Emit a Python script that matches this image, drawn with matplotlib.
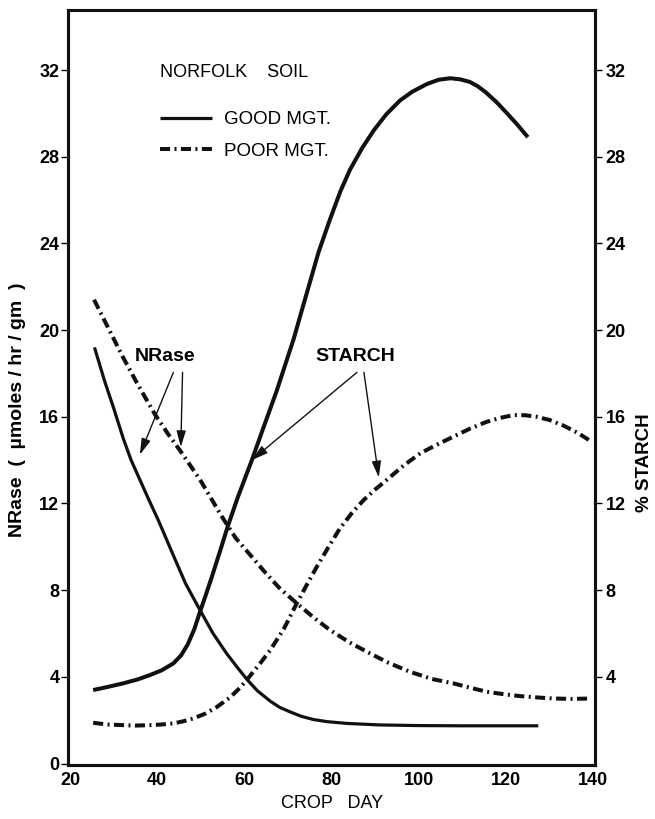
import matplotlib
matplotlib.use("Agg")
import matplotlib.pyplot as plt

plt.rcParams['font.family'] = ['Liberation Sans', 'DejaVu Sans']

# ---- data ----
good_nrase_day = [25.6, 28, 30, 32.2, 34, 36, 38, 40.3, 43.7, 46.5, 49.8, 52.8, 55.9, 58.5,
                  60.7, 63, 65.9, 68, 70.5, 73, 75.8, 79, 83.5, 91, 100, 110, 127.4]
good_nrase_val = [19.2, 17.6, 16.4, 15.0, 14.0, 13.1, 12.2, 11.2, 9.6, 8.3, 7.08, 6.0, 5.08, 4.4,
                  3.85, 3.35, 2.88, 2.6, 2.38, 2.18, 2.03, 1.93, 1.85, 1.78, 1.75, 1.74, 1.74]

poor_nrase_day = [25.5, 29, 32, 35.5, 39.5, 42.5, 45.2, 49.8, 54.8, 58, 61, 64.3, 68, 72, 75.8,
                  79.6, 84, 88.8, 93, 98, 103, 107.9, 111.7, 115.6, 119.4, 123.2, 127, 130.9,
                  135, 139.6]
poor_nrase_val = [21.4, 20.0, 18.8, 17.5, 16.1, 15.2, 14.45, 13.1, 11.4, 10.4, 9.7, 8.92, 8.1,
                  7.39, 6.75, 6.16, 5.6, 5.08, 4.65, 4.23, 3.9, 3.7, 3.5, 3.31, 3.2, 3.11, 3.05,
                  3.0, 2.98, 3.0]

good_starch_day = [25.3, 29, 32.2, 35.5, 38.3, 41, 43.7, 45.5, 47, 48.5, 49.8, 51, 52.5, 54.4,
                   56.1, 58.5, 61.7, 64, 67.4, 71.3, 73, 75, 77, 79.6, 82, 84.2, 87, 89.6, 92.5,
                   95.7, 98.5, 101.8, 104.5, 107.2, 109.5, 111.7, 113.5, 115.3, 117.8, 120,
                   122.5, 125]
good_starch_val = [3.39, 3.55, 3.70, 3.88, 4.08, 4.3, 4.62, 5.0, 5.5, 6.2, 7.0, 7.7, 8.6, 9.8,
                   10.9, 12.3, 14.0, 15.3, 17.2, 19.6, 20.8, 22.2, 23.6, 25.1, 26.4, 27.4, 28.4,
                   29.2, 29.95, 30.6, 31.0, 31.35, 31.55, 31.62, 31.57, 31.45, 31.25, 30.98,
                   30.52, 30.05, 29.5, 28.9]

poor_starch_day = [25.3, 28.5, 32.2, 35, 38.3, 41, 43.7, 46, 48.3, 51, 53.6, 56.7, 59, 60.5, 63.6,
                   65.9, 69, 72, 74.3, 76.6, 79.3, 81.9, 84.6, 87.3, 90, 92.6, 96.5, 100.3, 104,
                   107.9, 111.7, 115.6, 118.7, 121.7, 124.4, 127, 130, 133.1, 136.5, 139.6]
poor_starch_val = [1.88, 1.8, 1.77, 1.75, 1.77, 1.8, 1.85, 1.95, 2.08, 2.3, 2.6, 3.05, 3.5, 3.85,
                   4.62, 5.23, 6.2, 7.39, 8.25, 9.08, 10.0, 10.85, 11.55, 12.15, 12.65, 13.08,
                   13.75, 14.31, 14.7, 15.08, 15.45, 15.77, 15.95, 16.08, 16.07, 16.0, 15.85,
                   15.6, 15.25, 14.85]

x_ticks = [20, 40, 60, 80, 100, 120, 140]
left_ticks = [0, 4, 8, 12, 16, 20, 24, 28, 32]
right_ticks = [4, 8, 12, 16, 20, 24, 28, 32]

legend_title = "NORFOLK    SOIL"
legend_labels = ["GOOD MGT.", "POOR MGT."]

# annotation anchors: (label, text position, arrow start -> tip)
nrase_label = ("NRase", (41.8, 18.8), [((43.7, 18.05), (36.0, 14.25)), ((45.8, 18.05), (45.4, 14.6))])
starch_label = ("STARCH", (85.4, 18.8), [((85.8, 18.05), (61.7, 14.0)), ((87.4, 18.05), (90.8, 13.2))])

# ---- figure ----
fig = plt.figure(figsize=(6.55, 8.19), dpi=100)
ax = fig.add_axes([0.1043, 0.0659, 0.8041, 0.9219])
ax2 = ax.twinx()

dashdot = (0, (2.5, 1.1, 0.5, 1.1))
col = '#111111'

l_good, = ax.plot(good_nrase_day, good_nrase_val, color=col, lw=2.3, solid_capstyle='butt',
                  solid_joinstyle='round')
ax.plot(good_starch_day, good_starch_val, color=col, lw=2.9, solid_capstyle='butt',
        solid_joinstyle='round')
l_poor, = ax.plot(poor_nrase_day, poor_nrase_val, color=col, lw=2.9, linestyle=dashdot,
                  dash_capstyle='butt')
ax.plot(poor_starch_day, poor_starch_val, color=col, lw=2.9, linestyle=dashdot,
        dash_capstyle='butt')

xlim = (19.6, 140.4)
ylim = (-0.07, 34.77)
for a in (ax, ax2):
    a.set_xlim(*xlim)
    a.set_ylim(*ylim)

ax.set_xticks(x_ticks)
ax.set_yticks(left_ticks)
ax2.set_yticks(right_ticks)

ax.tick_params(axis='x', length=0, pad=5, labelsize=13)
ax.tick_params(axis='y', direction='out', length=5, width=1, pad=1.5, labelsize=13)
ax2.tick_params(axis='y', direction='out', length=5, width=1, pad=2.5, labelsize=13)
for lab in ax.get_xticklabels() + ax.get_yticklabels() + ax2.get_yticklabels():
    lab.set_fontweight('bold')

for a in (ax, ax2):
    for s in a.spines.values():
        s.set_linewidth(2.2)
        s.set_color(col)
ax.spines['top'].set_linewidth(1.8)

ax.set_xlabel("CROP   DAY", fontsize=13, labelpad=4)
ax.set_ylabel("NRase  (  \u00b5moles / hr / gm  )", fontsize=14, fontweight='bold')
ax.yaxis.set_label_coords(-0.080, 0.47)
ax2.set_ylabel("% STARCH", fontsize=13.5, fontweight='bold', rotation=90)
ax2.yaxis.set_label_coords(1.078, 0.40)

# legend
ax.text(0.174, 0.917, legend_title, transform=ax.transAxes, fontsize=13,
        ha='left', va='center')
leg = ax.legend([l_good, l_poor], legend_labels, loc='upper left',
                bbox_to_anchor=(0.174, 0.866), frameon=False, fontsize=13.5,
                handlelength=2.8, handletextpad=0.6, labelspacing=0.78,
                borderpad=0, borderaxespad=0)

# annotations
for label, tpos, arrows in (nrase_label, starch_label):
    ax.text(tpos[0], tpos[1], label, fontsize=14, fontweight='bold',
            ha='center', va='center')
    for start, tip in arrows:
        ax.annotate('', xy=tip, xytext=start,
                    arrowprops=dict(arrowstyle='-|>,head_length=0.7,head_width=0.2',
                                    lw=1.0, color=col, shrinkA=0, shrinkB=0,
                                    mutation_scale=14))

fig.savefig("out.png", dpi=100, facecolor='white')
